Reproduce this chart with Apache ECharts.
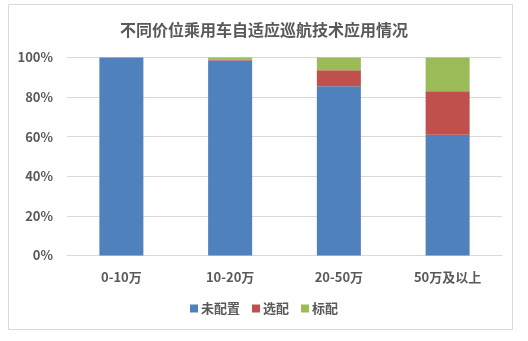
<!DOCTYPE html>
<html>
<head>
<meta charset="utf-8">
<script src="https://cdn.jsdelivr.net/npm/echarts@6/dist/echarts.min.js"></script>
<style>
html,body{margin:0;padding:0;background:#fff;}
#c{width:528px;height:341px;}
</style>
</head>
<body>
<div id="c"></div>
<script>
var categories = ['0-10万', '10-20万', '20-50万', '50万及以上'];
var seriesNames = ['未配置', '选配', '标配'];
var unconfigured = [100, 98.5, 85.5, 61];
var optional = [0, 0.5, 8, 22];
var standard = [0, 1, 6.5, 17];
var yTicks = [0, 20, 40, 60, 80, 100];
var colors = ['#4f81bd', '#c0504d', '#9bbb59'];

var font = '"Noto Sans CJK SC", "Microsoft YaHei", sans-serif';
var chart = echarts.init(document.getElementById('c'));
var dataSets = [unconfigured, optional, standard];
chart.setOption({
  animation: false,
  color: colors,
  title: {
    text: '不同价位乘用车自适应巡航技术应用情况',
    left: 'center',
    top: 17,
    textStyle: {fontFamily: font, fontSize: 16, fontWeight: 'bold', color: '#595959'}
  },
  graphic: [{
    type: 'rect',
    shape: {x: 8.5, y: 4.5, width: 504, height: 325},
    style: {fill: 'none', stroke: '#d9d9d9', lineWidth: 1},
    silent: true
  }],
  legend: {
    data: seriesNames,
    bottom: 21,
    left: 'center',
    itemWidth: 8,
    itemHeight: 8,
    itemGap: 12,
    icon: 'rect',
    textStyle: {fontFamily: font, fontSize: 13, fontWeight: 'bold', color: '#595959', padding: [0, 0, 0, -2]}
  },
  grid: {left: 67, right: 26, top: 57.5, bottom: 85.5},
  xAxis: {
    type: 'category',
    data: categories,
    axisLine: {show: true, lineStyle: {color: '#d9d9d9'}},
    axisTick: {show: false},
    axisLabel: {fontFamily: font, fontSize: 13, fontWeight: 'bold', color: '#595959', margin: 15}
  },
  yAxis: {
    type: 'value',
    min: yTicks[0],
    max: yTicks[yTicks.length - 1],
    interval: 20,
    axisLine: {show: false},
    axisTick: {show: false},
    splitLine: {lineStyle: {color: '#d9d9d9'}},
    axisLabel: {fontFamily: font, fontSize: 13, fontWeight: 'bold', color: '#595959', margin: 14, formatter: '{value}%'}
  },
  series: seriesNames.map(function (n, i) {
    return {
      name: n,
      type: 'bar',
      stack: 'total',
      barWidth: 44,
      data: dataSets[i]
    };
  })
});
</script>
</body>
</html>
